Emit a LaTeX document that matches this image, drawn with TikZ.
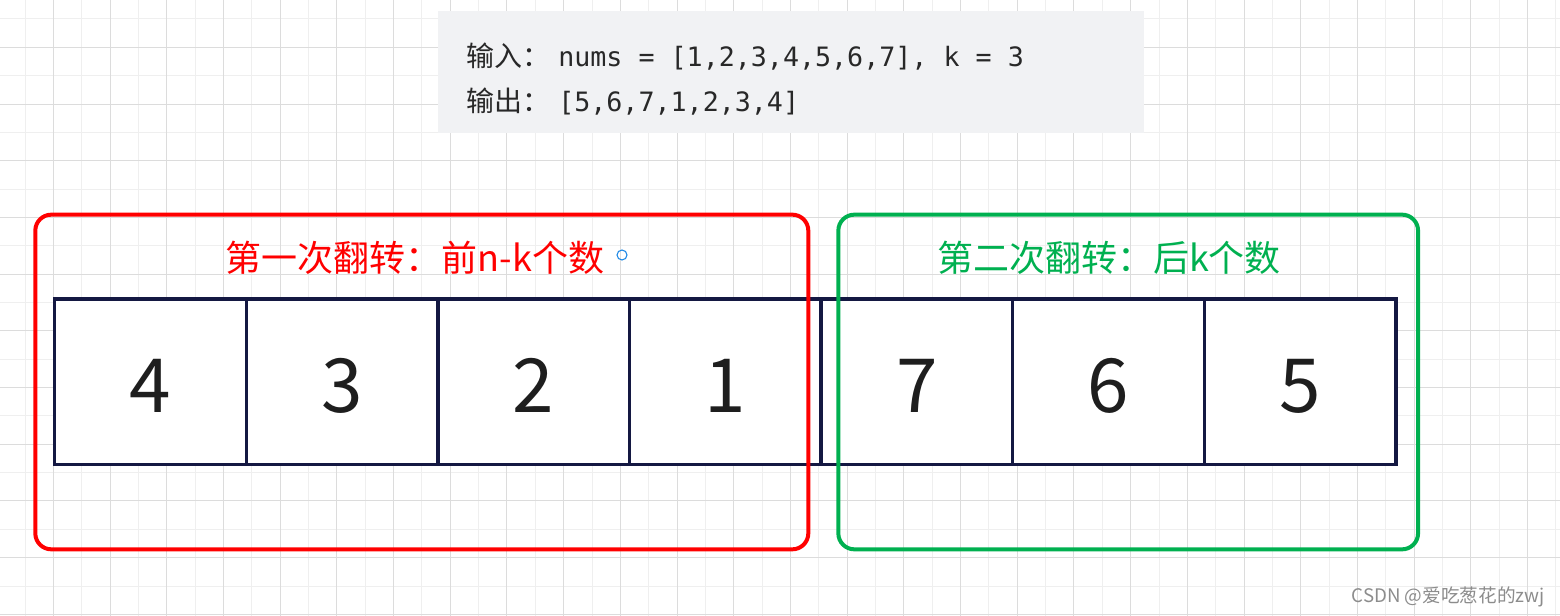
\documentclass[tikz,border=0pt]{standalone}
\usepackage{fontspec}
\usepackage{tikz}
\usetikzlibrary{positioning}
\newfontfamily\cjkfont{Noto Sans CJK SC}
\newfontfamily\codefont{DejaVu Sans Mono}
\definecolor{gridlight}{RGB}{239,239,239}
\definecolor{griddark}{RGB}{220,220,220}
\definecolor{codebg}{RGB}{241,242,244}
\definecolor{codeink}{RGB}{40,40,40}
\definecolor{cellink}{RGB}{20,24,66}
\definecolor{digitink}{RGB}{30,30,30}
\definecolor{framered}{RGB}{255,0,0}
\definecolor{framegreen}{RGB}{0,176,80}
\definecolor{handleblue}{RGB}{30,136,229}
\definecolor{markgray}{RGB}{140,140,140}
\tikzset{
  gminor/.style={line width=0.75pt, gridlight},
  gmajor/.style={line width=0.75pt, griddark},
  codepanel/.style={rectangle, fill=codebg, draw=none, inner sep=0pt,
                    minimum width=529.5pt, minimum height=91.5pt},
  codeline/.style={anchor=base west, inner sep=0pt, text=codeink},
  arrcell/.style={rectangle, draw=cellink, fill=white, line width=2.5pt,
                  minimum width=143.7pt, minimum height=124pt, inner sep=0pt,
                  text=digitink, text height=47pt,
                  font=\cjkfont\fontsize{56pt}{60pt}\selectfont},
  flipframe/.style={rectangle, rounded corners=12pt, line width=3pt,
                    minimum height=251pt, inner sep=0pt},
  fliptitle/.style={inner sep=0pt, font=\cjkfont\fontsize{27pt}{32pt}\selectfont},
  handle/.style={circle, draw=handleblue, line width=0.8pt,
                 minimum size=7.5pt, inner sep=0pt},
  watermark/.style={anchor=east, inner sep=0pt, text=markgray,
                    font=\cjkfont\fontsize{14pt}{16pt}\selectfont},
}
\newcommand{\cjkcode}{\cjkfont\fontsize{21pt}{25pt}\selectfont}
\newcommand{\monocode}{\codefont\fontsize{20pt}{25pt}\selectfont}

\begin{document}
\begin{tikzpicture}[x=0.75pt, y=-0.75pt]
  \useasboundingbox (0,0) rectangle (1560,616);
  % background grid
  \foreach \i in {0,2,...,54} \draw[gminor] ({25+28.35*\i},0) -- ({25+28.35*\i},616);
  \foreach \j in {0,2,...,20} \draw[gminor] (0,{19+28.35*\j}) -- (1560,{19+28.35*\j});
  \foreach \i in {1,3,...,53} \draw[gmajor] ({25+28.35*\i},0) -- ({25+28.35*\i},616);
  \foreach \j in {1,3,...,21} \draw[gmajor] (0,{19+28.35*\j}) -- (1560,{19+28.35*\j});

  % example input / output
  \node[codepanel] (panel) at (791,71.7) {};
  \node[codeline] (inline) at (466,67)
    {{\cjkcode 输入：}\hspace{6pt}{\monocode nums = [1,2,3,4,5,6,7], k = 3}};
  \node[codeline] (outline) at (466,112)
    {{\cjkcode 输出：}\hspace{6pt}{\monocode [5,6,7,1,2,3,4]}};

  % array after both flips
  \node[arrcell] (c1) at (150.5,381.6) {4};
  \node[arrcell] (c2) at (342.1,381.6) {3};
  \node[arrcell] (c3) at (533.7,381.6) {2};
  \node[arrcell] (c4) at (725.3,381.6) {1};
  \node[arrcell] (c5) at (916.9,381.6) {7};
  \node[arrcell] (c6) at (1108.5,381.6) {6};
  \node[arrcell] (c7) at (1300.1,381.6) {5};

  % the two flipped parts
  \node[flipframe, draw=framered, minimum width=579.75pt] (redframe) at (421.8,382) {};
  \node[flipframe, draw=framegreen, minimum width=434.8pt] (greenframe) at (1128.2,382) {};
  \node[fliptitle, text=framered] (redtitle) at (415,258) {第一次翻转：前n-k个数};
  \node[fliptitle, text=framegreen] (greentitle) at (1109,258) {第二次翻转：后k个数};
  \node[handle] (dot) at (622,255) {};

  \node[watermark] (mark) at (1545,597) {CSDN @爱吃葱花的zwj};
\end{tikzpicture}
\end{document}
